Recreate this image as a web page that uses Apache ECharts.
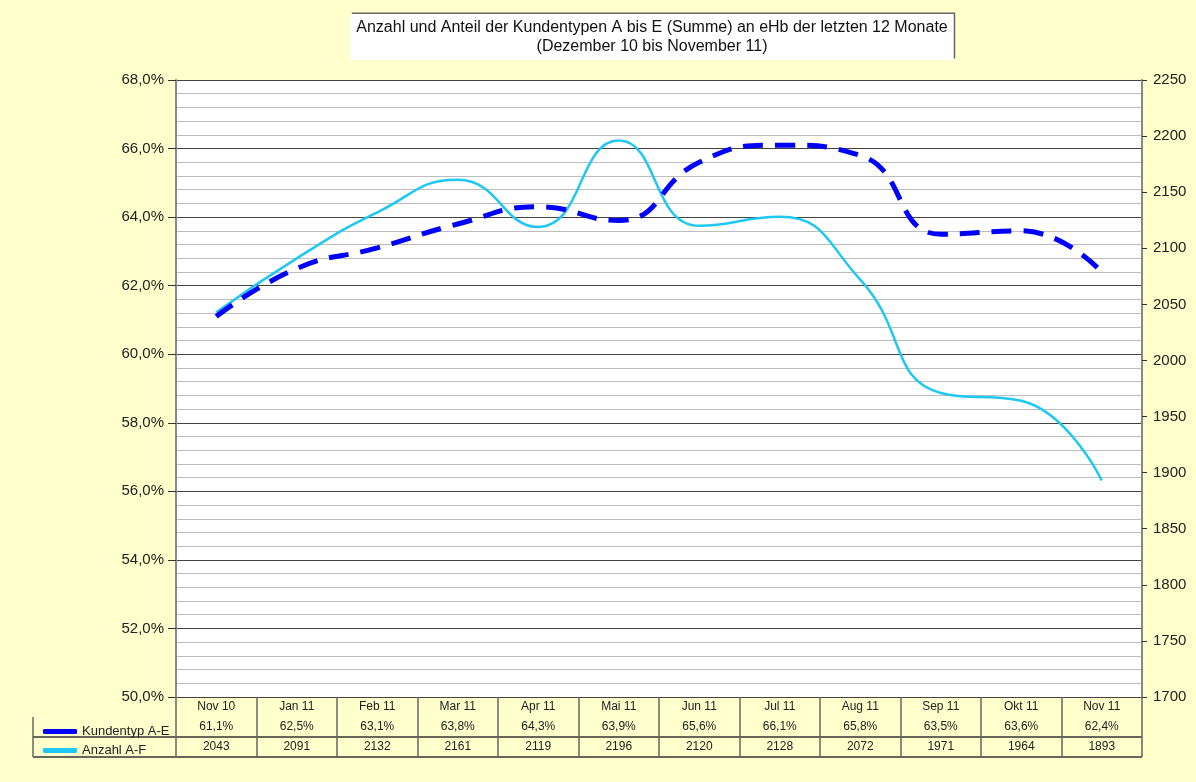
<!DOCTYPE html>
<html>
<head>
<meta charset="utf-8">
<script src="https://cdn.jsdelivr.net/npm/echarts@6/dist/echarts.min.js"></script>
<style>
  html, body { margin: 0; padding: 0; background: #FFFFCC; }
  #chart { width: 1196px; height: 782px; }
</style>
</head>
<body>
<div id="chart"></div>
<script>
const months = ['Nov 10', 'Jan 11', 'Feb 11', 'Mar 11', 'Apr 11', 'Mai 11', 'Jun 11', 'Jul 11', 'Aug 11', 'Sep 11', 'Okt 11', 'Nov 11'];
const kundentyp = [61.1, 62.5, 63.1, 63.8, 64.3, 63.9, 65.6, 66.1, 65.8, 63.5, 63.6, 62.4];
const anzahl = [2043, 2091, 2132, 2161, 2119, 2196, 2120, 2128, 2072, 1971, 1964, 1893];

const font = 'Liberation Sans, Arial, sans-serif';
const pct = v => v.toFixed(1).replace('.', ',') + '%';

const myChart = echarts.init(document.getElementById('chart'));

const option = {
  backgroundColor: '#FFFFCC',
  animation: false,
  textStyle: { fontFamily: font },
  title: {
    text: 'Anzahl und Anteil der Kundentypen A bis E (Summe) an eHb der letzten 12 Monate\n(Dezember 10 bis November 11)',
    left: 646,
    top: 14,
    textAlign: 'center',
    backgroundColor: '#fff',
    padding: [4, 6, 4, 6],
    shadowColor: '#666',
    shadowOffsetX: 1.5,
    shadowOffsetY: -1.5,
    textStyle: { fontFamily: font, fontSize: 16, fontWeight: 'normal', color: '#111', lineHeight: 19, align: 'center' }
  },
  legend: {
    orient: 'vertical',
    left: 38,
    top: 720,
    itemWidth: 34,
    itemHeight: 5,
    itemGap: 6,
    icon: 'roundRect',
    textStyle: { fontFamily: font, fontSize: 13, color: '#222' }
  },
  grid: {
    left: 176, right: 54, top: 80, bottom: 85,
    show: true, backgroundColor: '#fff', borderWidth: 0
  },
  xAxis: {
    type: 'category',
    data: months,
    boundaryGap: true,
    axisLine: { show: false },
    axisTick: { show: true, interval: 0, length: 60, lineStyle: { color: '#666', width: 1.5 } },
    axisLabel: {
      interval: 0,
      margin: 0,
      formatter: (v, i) => '{a|' + v + '}\n{b|' + pct(kundentyp[i]) + '}\n{c|' + anzahl[i] + '}',
      rich: {
        a: { fontSize: 12, lineHeight: 20, color: '#222', fontFamily: font },
        b: { fontSize: 12, lineHeight: 20, color: '#222', fontFamily: font },
        c: { fontSize: 12, lineHeight: 20, color: '#222', fontFamily: font }
      }
    }
  },
  yAxis: [
    {
      type: 'value',
      min: 50, max: 68, interval: 2,
      axisLine: { show: true, lineStyle: { color: '#888', width: 2 } },
      axisTick: { show: true, length: 8, lineStyle: { color: '#333' } },
      axisLabel: { formatter: v => pct(v), fontSize: 15, color: '#222', margin: 12, fontFamily: font },
      splitLine: { show: true, lineStyle: { color: '#444', width: 1 } },
      minorTick: { show: false, splitNumber: 5 },
      minorSplitLine: { show: true, lineStyle: { color: '#bdbdbd', width: 1 } }
    },
    {
      type: 'value',
      min: 1700, max: 2250, interval: 50,
      axisLine: { show: true, lineStyle: { color: '#888', width: 2 } },
      axisTick: { show: true, length: 5, lineStyle: { color: '#333' } },
      axisLabel: { formatter: v => String(v), fontSize: 15, color: '#222', margin: 11, fontFamily: font },
      splitLine: { show: false }
    }
  ],
  series: [
    {
      name: 'Kundentyp A-E',
      type: 'line',
      yAxisIndex: 0,
      data: kundentyp,
      smooth: 0.5,
      showSymbol: false,
      color: '#0000FF',
      lineStyle: { color: '#0000FF', width: 5, type: [20, 12] },
      z: 3
    },
    {
      name: 'Anzahl A-F',
      type: 'line',
      yAxisIndex: 1,
      data: anzahl,
      smooth: 0.5,
      showSymbol: false,
      color: '#1EC8F2',
      lineStyle: { color: '#1EC8F2', width: 2.5 },
      z: 2
    }
  ],
  graphic: [
    { type: 'line', shape: { x1: 33, y1: 737, x2: 1142, y2: 737 }, style: { stroke: '#333', lineWidth: 1.5 } },
    { type: 'line', shape: { x1: 33, y1: 757, x2: 1142, y2: 757 }, style: { stroke: '#333', lineWidth: 1.5 } },
    { type: 'line', shape: { x1: 33, y1: 717, x2: 33, y2: 757 }, style: { stroke: '#666', lineWidth: 1.5 } }
  ]
};

myChart.setOption(option);
</script>
</body>
</html>
